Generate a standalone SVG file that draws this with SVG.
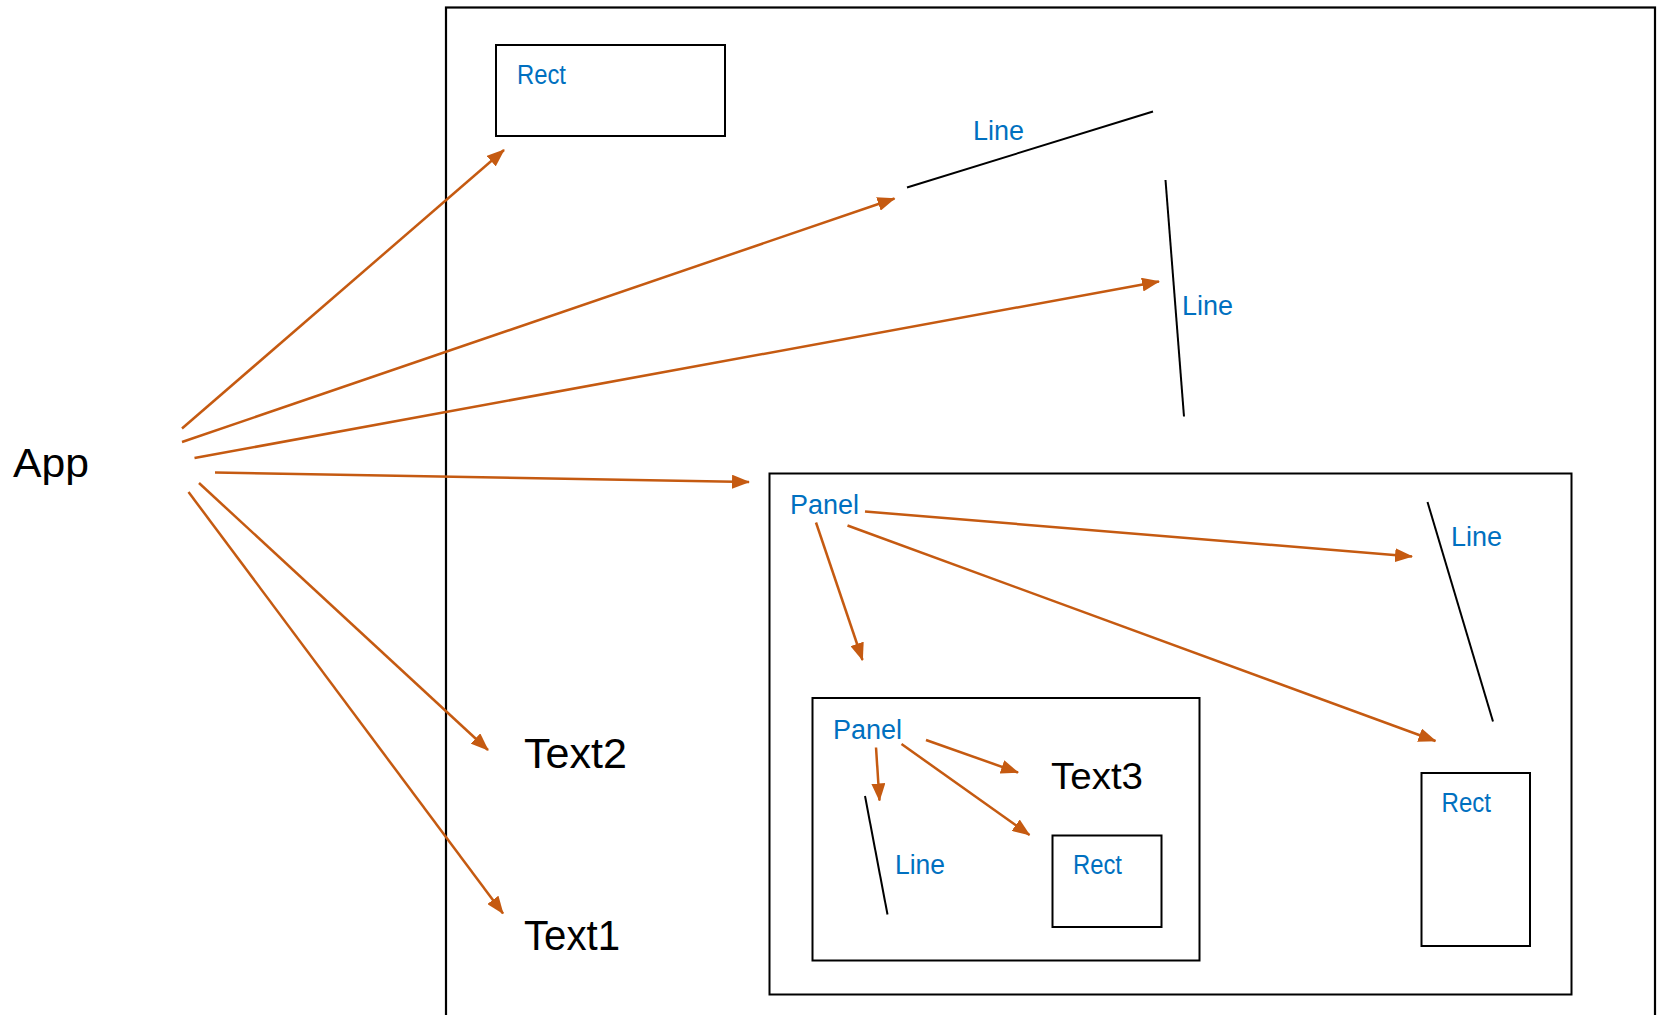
<svg xmlns="http://www.w3.org/2000/svg" width="1657" height="1015" viewBox="0 0 1657 1015">
  <style>
    .frame { fill: none; stroke: #000; stroke-width: 2.2; }
    .shape { fill: none; stroke: #000; stroke-width: 2; }
    .edge { fill: none; stroke: #C55A11; stroke-width: 2.5; marker-end: url(#arrow); }
    .lbl { font-family: "Liberation Sans", Arial, sans-serif; font-size: 27px; fill: #0070C0; }
    .big { font-family: "Liberation Sans", Arial, sans-serif; fill: #000; }
  </style>
  <defs>
    <marker id="arrow" markerUnits="userSpaceOnUse" markerWidth="18" markerHeight="14" viewBox="0 0 18 14" refX="17" refY="7" orient="auto">
      <path d="M0,0 L18,7 L0,14 Z" fill="#C55A11"/>
    </marker>
  </defs>

  <rect width="1657" height="1015" fill="#fff"/>

  <!-- application window frame -->
  <g id="frame">
    <rect class="frame" x="446" y="7.5" width="1209" height="1100"/>
  </g>

  <g id="app">
    <text class="big" x="13" y="477" font-size="41" textLength="76" lengthAdjust="spacingAndGlyphs">App</text>
  </g>

  <g id="rect-top">
    <rect class="shape" x="496" y="45" width="229" height="91"/>
    <text class="lbl" x="517" y="83.5" textLength="49" lengthAdjust="spacingAndGlyphs">Rect</text>
  </g>

  <g id="line-top">
    <line class="shape" x1="907" y1="187.5" x2="1153" y2="111.5"/>
    <text class="lbl" x="973" y="140" textLength="51" lengthAdjust="spacingAndGlyphs">Line</text>
  </g>

  <g id="line-mid">
    <line class="shape" x1="1165.5" y1="180" x2="1184" y2="416.5"/>
    <text class="lbl" x="1182" y="315" textLength="51" lengthAdjust="spacingAndGlyphs">Line</text>
  </g>

  <g id="text2">
    <text class="big" x="524" y="768" font-size="42" textLength="103" lengthAdjust="spacingAndGlyphs">Text2</text>
  </g>

  <g id="text1">
    <text class="big" x="524" y="950" font-size="42" textLength="96" lengthAdjust="spacingAndGlyphs">Text1</text>
  </g>

  <g id="panel-outer">
    <rect class="shape" x="769.5" y="473.5" width="802" height="521"/>
    <text class="lbl" x="790" y="514" textLength="69" lengthAdjust="spacingAndGlyphs">Panel</text>
  </g>

  <g id="line-right">
    <line class="shape" x1="1427.5" y1="502" x2="1493" y2="721.5"/>
    <text class="lbl" x="1451" y="546" textLength="51" lengthAdjust="spacingAndGlyphs">Line</text>
  </g>

  <g id="rect-right">
    <rect class="shape" x="1421.5" y="773" width="108.5" height="173"/>
    <text class="lbl" x="1441.5" y="811.5" textLength="49.5" lengthAdjust="spacingAndGlyphs">Rect</text>
  </g>

  <g id="panel-inner">
    <rect class="shape" x="812.5" y="698" width="387" height="262.5"/>
    <text class="lbl" x="833" y="739" textLength="69" lengthAdjust="spacingAndGlyphs">Panel</text>
  </g>

  <g id="text3">
    <text class="big" x="1051" y="788.5" font-size="37" textLength="92" lengthAdjust="spacingAndGlyphs">Text3</text>
  </g>

  <g id="line-inner">
    <line class="shape" x1="865" y1="796" x2="887.5" y2="914.5"/>
    <text class="lbl" x="895" y="874" textLength="50" lengthAdjust="spacingAndGlyphs">Line</text>
  </g>

  <g id="rect-inner">
    <rect class="shape" x="1052.5" y="835.5" width="109" height="91.5"/>
    <text class="lbl" x="1073" y="874" textLength="49" lengthAdjust="spacingAndGlyphs">Rect</text>
  </g>

  <!-- parent to child connectors -->
  <g id="connectors">
    <line class="edge" x1="182" y1="428.5" x2="504" y2="150"/>
    <line class="edge" x1="182" y1="442" x2="894.5" y2="198.5"/>
    <line class="edge" x1="194.5" y1="458" x2="1159" y2="281.5"/>
    <line class="edge" x1="215" y1="472.5" x2="749" y2="482"/>
    <line class="edge" x1="199" y1="483" x2="488" y2="750"/>
    <line class="edge" x1="188.5" y1="492" x2="503" y2="913.5"/>
    <line class="edge" x1="865" y1="511.5" x2="1412" y2="556.5"/>
    <line class="edge" x1="847.5" y1="525.5" x2="1435.5" y2="741"/>
    <line class="edge" x1="816" y1="522.5" x2="862.5" y2="660"/>
    <line class="edge" x1="926" y1="740" x2="1018" y2="772.5"/>
    <line class="edge" x1="901.5" y1="744" x2="1029.5" y2="835"/>
    <line class="edge" x1="876" y1="747.5" x2="879.5" y2="800.5"/>
  </g>
</svg>
